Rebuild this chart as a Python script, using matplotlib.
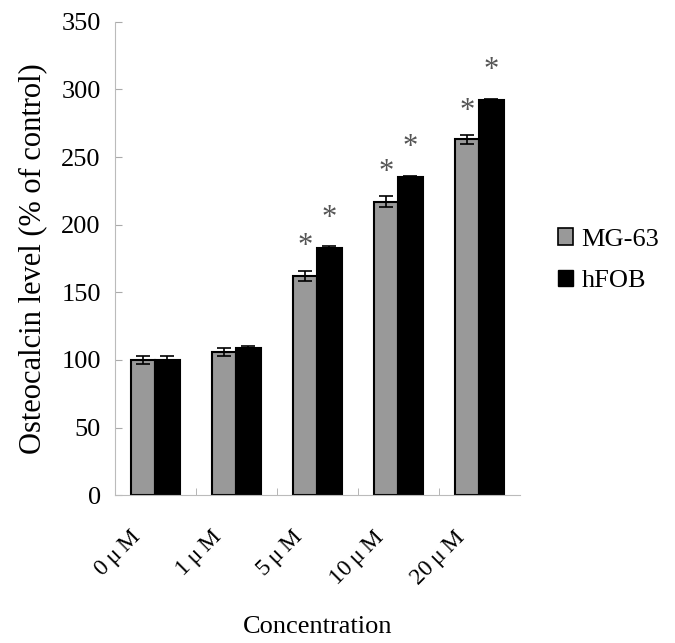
import numpy as np
import matplotlib
matplotlib.use("Agg")
import matplotlib.pyplot as plt
from matplotlib.patches import Patch
from matplotlib.transforms import ScaledTranslation

plt.rcParams['font.family'] = ['Liberation Serif', 'DejaVu Serif']

# data
concentrations = ['0\u2009μ\u2009M', '1\u2009μ\u2009M', '5\u2009μ\u2009M', '10\u2009μ\u2009M', '20\u2009μ\u2009M']
mg63 = [100, 106, 162, 217, 263]
mg63_err = [3, 3, 4, 4, 3]
hfob = [100, 109, 183, 235, 292]
hfob_err = [3, 1, 1, 1, 1]
mg63_sig = [False, False, True, True, True]
hfob_sig = [False, False, True, True, True]

fig = plt.figure(figsize=(6.75, 6.43), dpi=100)
ax = fig.add_axes([0.170, 0.230, 0.600, 0.736])

x = np.arange(len(concentrations))
w = 0.3
ax.bar(x - w / 2, mg63, w, color='#999999', edgecolor='black', linewidth=1.5,
       yerr=mg63_err, error_kw=dict(ecolor='black', capsize=5, elinewidth=1.2, capthick=1.2))
ax.bar(x + w / 2, hfob, w, color='black', edgecolor='black', linewidth=1.5,
       yerr=hfob_err, error_kw=dict(ecolor='black', capsize=5, elinewidth=1.2, capthick=1.2))

# significance stars
for i in range(len(x)):
    if mg63_sig[i]:
        ax.text(x[i] - w / 2, mg63[i] + mg63_err[i] + 7, '*', ha='center', va='bottom',
                fontsize=22, color='#555555')
    if hfob_sig[i]:
        ax.text(x[i] + w / 2, hfob[i] + hfob_err[i] + 10, '*', ha='center', va='bottom',
                fontsize=22, color='#555555')

ax.set_xlim(-0.5, len(x) - 0.5)
ax.set_ylim(0, 350)
ax.set_yticks(range(0, 351, 50))
ax.tick_params(axis='y', direction='in', length=5, color='#aaaaaa', labelsize=19, pad=10)

ax.set_xticks(x)
ax.set_xticklabels(concentrations, rotation=45, ha='right', rotation_mode='anchor', fontsize=17)
ax.tick_params(axis='x', which='major', length=0, pad=12)
shift = ScaledTranslation(-0.25, -0.15, fig.dpi_scale_trans)
for lab in ax.get_xticklabels():
    lab.set_transform(lab.get_transform() + shift)
ax.set_xticks(x[:-1] + 0.5, minor=True)
ax.tick_params(axis='x', which='minor', direction='in', length=5, color='#aaaaaa')

for s in ['top', 'right']:
    ax.spines[s].set_visible(False)
ax.spines['left'].set_color('#bbbbbb')
ax.spines['bottom'].set_color('#bbbbbb')

ax.set_ylabel('Osteocalcin level (% of control)', fontsize=22, labelpad=10)
ax.set_xlabel('Concentration', fontsize=19)
ax.xaxis.set_label_coords(0.5, -0.255)

handles = [Patch(facecolor='#999999', edgecolor='black', linewidth=1.2, label='MG-63'),
           Patch(facecolor='black', edgecolor='black', label='hFOB')]
fig.legend(handles=handles, loc='center left', bbox_to_anchor=(0.826, 0.595), frameon=False,
           borderpad=0, borderaxespad=0, fontsize=19, handlelength=0.6, handleheight=0.6,
           handletextpad=0.3, labelspacing=0.7)

fig.savefig('out.png', dpi=100, facecolor='white')
